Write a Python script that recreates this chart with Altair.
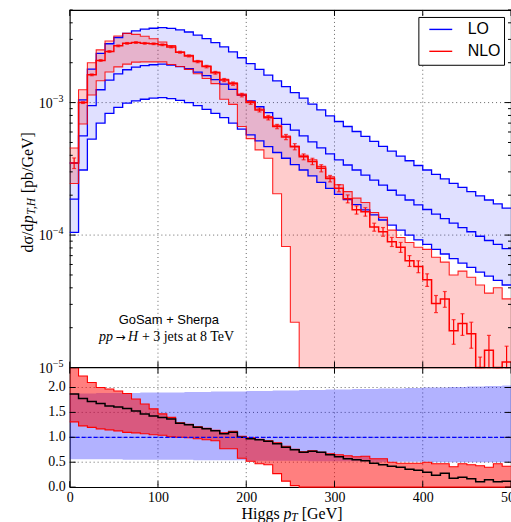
import altair as alt
import pandas as pd

# ---------------- data ----------------
EDGES = list(range(0, 501, 10))          # 50 bins of 10 GeV

lo_central = [1.87e-4, 5.6e-4, 9.5e-4, 1.25e-3, 1.48e-3, 1.65e-3, 1.77e-3, 1.85e-3, 1.9e-3, 1.93e-3,
              1.95e-3, 1.92e-3, 1.87e-3, 1.8e-3, 1.7e-3, 1.6e-3, 1.49e-3, 1.38e-3, 1.26e-3, 1.14e-3,
              1.03e-3, 9.3e-4, 8.4e-4, 7.6e-4, 6.85e-4, 6.2e-4, 5.6e-4, 5.05e-4, 4.55e-4, 4.1e-4,
              3.7e-4, 3.38e-4, 3.1e-4, 2.84e-4, 2.6e-4, 2.38e-4, 2.18e-4, 2.0e-4, 1.84e-4, 1.69e-4,
              1.56e-4, 1.44e-4, 1.33e-4, 1.23e-4, 1.14e-4, 1.06e-4, 9.8e-5, 9.1e-5, 8.5e-5, 7.9e-5]
lo_upper = [3.5e-4, 1.05e-3, 1.79e-3, 2.35e-3, 2.78e-3, 3.1e-3, 3.33e-3, 3.48e-3, 3.58e-3, 3.64e-3,
            3.68e-3, 3.63e-3, 3.54e-3, 3.41e-3, 3.23e-3, 3.04e-3, 2.84e-3, 2.63e-3, 2.41e-3, 2.18e-3,
            1.97e-3, 1.78e-3, 1.61e-3, 1.46e-3, 1.32e-3, 1.19e-3, 1.08e-3, 9.75e-4, 8.8e-4, 7.95e-4,
            7.2e-4, 6.6e-4, 6.05e-4, 5.55e-4, 5.1e-4, 4.68e-4, 4.3e-4, 3.95e-4, 3.64e-4, 3.35e-4,
            3.1e-4, 2.87e-4, 2.66e-4, 2.46e-4, 2.29e-4, 2.13e-4, 1.98e-4, 1.84e-4, 1.72e-4, 1.6e-4]
lo_lower = [1.05e-4, 3.1e-4, 5.3e-4, 7.0e-4, 8.3e-4, 9.2e-4, 9.9e-4, 1.03e-3, 1.06e-3, 1.08e-3,
            1.09e-3, 1.07e-3, 1.04e-3, 1.0e-3, 9.5e-4, 8.9e-4, 8.3e-4, 7.7e-4, 7.0e-4, 6.3e-4,
            5.7e-4, 5.15e-4, 4.65e-4, 4.2e-4, 3.8e-4, 3.4e-4, 3.1e-4, 2.8e-4, 2.5e-4, 2.25e-4,
            2.03e-4, 1.85e-4, 1.7e-4, 1.55e-4, 1.42e-4, 1.3e-4, 1.19e-4, 1.09e-4, 1.0e-4, 9.2e-5,
            8.5e-5, 7.8e-5, 7.2e-5, 6.65e-5, 6.15e-5, 5.7e-5, 5.25e-5, 4.9e-5, 4.55e-5, 4.2e-5]
nlo_central = [3.5e-4, 1.0e-3, 1.62e-3, 2.08e-3, 2.43e-3, 2.68e-3, 2.8e-3, 2.84e-3, 2.8e-3, 2.78e-3,
               2.73e-3, 2.63e-3, 2.4e-3, 2.25e-3, 2.04e-3, 1.87e-3, 1.68e-3, 1.48e-3, 1.39e-3, 1.14e-3,
               1.0e-3, 8.8e-4, 7.7e-4, 6.6e-4, 5.5e-4, 4.65e-4, 3.9e-4, 3.6e-4, 3.2e-4, 2.67e-4,
               2.26e-4, 1.88e-4, 1.55e-4, 1.5e-4, 1.15e-4, 1.06e-4, 8.9e-5, 8.1e-5, 6.4e-5, 5.8e-5,
               4.6e-5, 3.05e-5, 3.3e-5, 1.9e-5, 2.15e-5, 1.8e-5, 8.5e-6, 1.35e-5, 6.0e-6, 1.1e-5]
nlo_error = [3.2e-5, 1.5e-5, 2.5e-5, 3e-5, 3.5e-5, 4e-5, 4e-5, 4e-5, 4e-5, 4e-5,
             4e-5, 4e-5, 4e-5, 4e-5, 4e-5, 4e-5, 4e-5, 4e-5, 4e-5, 3.5e-5,
             3e-5, 3e-5, 3e-5, 2.5e-5, 2.5e-5, 2.5e-5, 2e-5, 2e-5, 2e-5, 1.5e-5,
             1.4e-5, 1.3e-5, 1.1e-5, 1.1e-5, 8e-6, 8e-6, 7e-6, 7e-6, 6e-6, 6e-6,
             5e-6, 4.5e-6, 4.5e-6, 4e-6, 4e-6, 4e-6, 3.5e-6, 4e-6, 3e-6, 3.5e-6]
nlo_upper = [4.54e-4, 1.25e-3, 2.0e-3, 2.5e-3, 2.92e-3, 3.18e-3, 3.33e-3, 3.27e-3, 3.17e-3, 3.03e-3,
             2.87e-3, 2.69e-3, 2.41e-3, 2.27e-3, 2.06e-3, 1.89e-3, 1.7e-3, 1.5e-3, 1.41e-3, 1.16e-3,
             1.02e-3, 8.95e-4, 7.85e-4, 6.75e-4, 5.6e-4, 4.7e-4, 4.0e-4, 3.7e-4, 3.3e-4, 2.75e-4,
             2.4e-4, 2.13e-4, 1.9e-4, 1.76e-4, 1.48e-4, 1.36e-4, 1.09e-4, 9.6e-5, 8.8e-5, 8.1e-5,
             7.8e-5, 6.8e-5, 6.25e-5, 5.0e-5, 5.35e-5, 4.8e-5, 4.2e-5, 3.65e-5, 4.0e-5, 3.3e-5]
nlo_lower = [2.45e-4, 6.9e-4, 1.14e-3, 1.46e-3, 1.7e-3, 1.86e-3, 1.95e-3, 2.02e-3, 2.03e-3, 2.03e-3,
             2.03e-3, 1.94e-3, 1.87e-3, 1.78e-3, 1.65e-3, 1.52e-3, 1.39e-3, 1.06e-3, 9.7e-4, 6.6e-4,
             5.35e-4, 4.4e-4, 3.8e-4, 2.05e-4, 8.2e-5, 2.2e-5, 0, 0, 0, 0,
             0, 0, 0, 0, 0, 0, 0, 0, 0, 0,
             0, 0, 0, 0, 0, 0, 0, 0, 0, 0]

# ratio panel (relative to LO central)
ratio_lo_up = [1.88, 1.88, 1.88, 1.89, 1.89, 1.89, 1.89, 1.89, 1.90, 1.90,
               1.90, 1.90, 1.90, 1.91, 1.91, 1.91, 1.92, 1.92, 1.92, 1.92,
               1.93, 1.93, 1.93, 1.94, 1.94, 1.94, 1.95, 1.95, 1.95, 1.96,
               1.96, 1.96, 1.97, 1.97, 1.97, 1.98, 1.98, 1.98, 1.99, 1.99,
               2.00, 2.00, 2.00, 2.01, 2.01, 2.02, 2.02, 2.03, 2.03, 2.04]
ratio_lo_dn = [0.56, 0.56, 0.56, 0.56, 0.56, 0.56, 0.55, 0.55, 0.55, 0.55,
               0.55, 0.55, 0.55, 0.55, 0.54, 0.54, 0.54, 0.54, 0.54, 0.54,
               0.53, 0.53, 0.53, 0.53, 0.53, 0.53, 0.53, 0.52, 0.52, 0.52,
               0.52, 0.52, 0.52, 0.52, 0.51, 0.51, 0.51, 0.51, 0.51, 0.51,
               0.51, 0.50, 0.50, 0.50, 0.50, 0.50, 0.50, 0.50, 0.50, 0.50]
ratio_nlo = [1.87, 1.78, 1.72, 1.68, 1.63, 1.61, 1.58, 1.53, 1.47, 1.43,
             1.40, 1.37, 1.28, 1.25, 1.20, 1.17, 1.13, 1.07, 1.10, 1.00,
             0.97, 0.95, 0.92, 0.87, 0.80, 0.75, 0.70, 0.72, 0.70, 0.65,
             0.61, 0.57, 0.55, 0.53, 0.48, 0.45, 0.42, 0.40, 0.36, 0.34,
             0.30, 0.24, 0.28, 0.18, 0.20, 0.17, 0.11, 0.15, 0.11, 0.12]
ratio_nlo_up = [2.43, 2.23, 2.10, 2.00, 1.97, 1.93, 1.88, 1.77, 1.67, 1.57,
                1.47, 1.40, 1.29, 1.26, 1.21, 1.18, 1.14, 1.09, 1.12, 1.02,
                0.99, 0.96, 0.93, 0.89, 0.82, 0.76, 0.71, 0.73, 0.70, 0.67,
                0.65, 0.63, 0.61, 0.62, 0.57, 0.57, 0.50, 0.48, 0.48, 0.48,
                0.50, 0.47, 0.47, 0.41, 0.47, 0.45, 0.43, 0.40, 0.47, 0.42]
ratio_nlo_dn = [1.31, 1.23, 1.20, 1.17, 1.15, 1.13, 1.10, 1.09, 1.07, 1.05,
                1.04, 1.01, 1.00, 0.99, 0.97, 0.95, 0.93, 0.77, 0.77, 0.58,
                0.52, 0.47, 0.45, 0.27, 0.12, 0.03, 0, 0, 0, 0,
                0, 0, 0, 0, 0, 0, 0, 0, 0, 0,
                0, 0, 0, 0, 0, 0, 0, 0, 0, 0]

x_ticks = [0, 100, 200, 300, 400, 500]
x_grid = [100, 200, 300, 400]
y_major = [1e-5, 1e-4, 1e-3]
y_major_exp = ["−5", "−4", "−3"]
y_grid = [1e-4, 1e-3]
y_minor = [2e-5, 3e-5, 4e-5, 5e-5, 6e-5, 7e-5, 8e-5, 9e-5,
           2e-4, 3e-4, 4e-4, 5e-4, 6e-4, 7e-4, 8e-4, 9e-4,
           2e-3, 3e-3, 4e-3, 5e-3]
r_ticks = [0.0, 0.5, 1.0, 1.5, 2.0]
r_labels = ["0.0", "0.5", "1.0", "1.5", "2.0"]
r_grid = [0.5, 1.0, 1.5, 2.0]
legend_labels = ["LO", "NLO"]
legend_colors = ["blue", "red"]

# ---------------- tables ----------------
FLOOR = 1e-7  # stand-in for 0 on the log axis (clamped to the panel floor)


def step_table(cols, floor=None):
    rows = []
    for i, e in enumerate(EDGES):
        j = min(i, len(EDGES) - 2)
        row = {"x": e}
        for k, v in cols.items():
            val = v[j]
            if floor is not None:
                val = max(val, floor)
            row[k] = val
        rows.append(row)
    return pd.DataFrame(rows)


top_df = step_table({"lo_c": lo_central, "lo_u": lo_upper, "lo_d": lo_lower,
                     "nlo_c": nlo_central, "nlo_u": nlo_upper, "nlo_d": nlo_lower}, floor=FLOOR)
bot_df = step_table({"r_lo_u": ratio_lo_up, "r_lo_d": ratio_lo_dn, "r_nlo": ratio_nlo,
                     "r_nlo_u": ratio_nlo_up, "r_nlo_d": ratio_nlo_dn})
err_df = pd.DataFrame({
    "xc": [e + 5 for e in EDGES[:-1]],
    "lo": [max(c - d, FLOOR) for c, d in zip(nlo_central, nlo_error)],
    "hi": [c + d for c, d in zip(nlo_central, nlo_error)],
})

# ---------------- geometry ----------------
W = 443          # plot width (x = 500 falls just past the window edge, as in the reference)
H1 = 359         # main panel height
H2 = 120         # ratio panel height
H = H1 + H2
XS = alt.Scale(domain=[0, 500], nice=False, zero=False)
YS = alt.Scale(type="log", domain=[1e-5, 5e-3], range=[H1, 0], nice=False, clamp=True)
RS = alt.Scale(domain=[0, 2.4], range=[H, H1], nice=False, zero=False, clamp=True)
SERIF = "Liberation Serif"
SANS = "Liberation Sans"

AX_X = alt.Axis(values=x_ticks, grid=False, title=None, labelPadding=3, labelFlush=False,
                labelOverlap=False)


def X(f):
    return alt.X(f, type="quantitative", scale=XS, axis=AX_X)


def YT(f):
    return alt.Y(f, type="quantitative", scale=YS, axis=None)


def YR(f):
    return alt.Y(f, type="quantitative", scale=RS, axis=None)


def text_layer(txt, x, y, **kw):
    return alt.Chart(pd.DataFrame({"t": [txt]})).mark_text(**kw).encode(
        x=alt.value(x), y=alt.value(y), text="t:N")


GRID = dict(color="#555555", strokeDash=[1, 3], strokeWidth=0.9)

# ---------------- grid ----------------
grid_x = alt.Chart(pd.DataFrame({"v": x_grid})).mark_rule(**GRID).encode(
    x=X("v"), y=alt.value(0), y2=alt.value(H))
grid_top = alt.Chart(pd.DataFrame({"v": y_grid})).mark_rule(**GRID).encode(
    y=YT("v"), x=alt.value(0), x2=alt.value(W))
grid_bot = alt.Chart(pd.DataFrame({"v": r_grid})).mark_rule(**GRID).encode(
    y=YR("v"), x=alt.value(0), x2=alt.value(W))

# ---------------- main panel ----------------
tb = alt.Chart(top_df)
lo_band = tb.mark_area(interpolate="step-after", color="blue", opacity=0.12).encode(
    x=X("x"), y=YT("lo_d"), y2="lo_u:Q")
nlo_band = tb.mark_area(interpolate="step-after", color="red", opacity=0.2).encode(
    x=X("x"), y=YT("nlo_d"), y2="nlo_u:Q")
lo_lines = [tb.mark_line(interpolate="step-after", color="blue", strokeWidth=1.3).encode(
    x=X("x"), y=YT(f)) for f in ["lo_u", "lo_c", "lo_d"]]
nlo_edges = [tb.mark_line(interpolate="step-after", color="red", strokeWidth=1.1, opacity=0.85).encode(
    x=X("x"), y=YT(f)) for f in ["nlo_u", "nlo_d"]]
nlo_line = tb.mark_line(interpolate="step-after", color="red", strokeWidth=1.5).encode(
    x=X("x"), y=YT("nlo_c"))
eb = alt.Chart(err_df)
err_rule = eb.mark_rule(color="red", strokeWidth=1.2).encode(x=X("xc"), y=YT("lo"), y2="hi:Q")
err_cap_lo = eb.mark_tick(color="red", orient="horizontal", size=4, thickness=1.2).encode(
    x=X("xc"), y=YT("lo"))
err_cap_hi = eb.mark_tick(color="red", orient="horizontal", size=4, thickness=1.2).encode(
    x=X("xc"), y=YT("hi"))

# ---------------- ratio panel ----------------
bb = alt.Chart(bot_df)
r_lo_band = bb.mark_area(interpolate="step-after", color="blue", opacity=0.3).encode(
    x=X("x"), y=YR("r_lo_d"), y2="r_lo_u:Q")
r_nlo_band = bb.mark_area(interpolate="step-after", color="red", opacity=0.5).encode(
    x=X("x"), y=YR("r_nlo_d"), y2="r_nlo_u:Q")
r_edges = [bb.mark_line(interpolate="step-after", color="red", strokeWidth=1.1).encode(
    x=X("x"), y=YR(f)) for f in ["r_nlo_u", "r_nlo_d"]]
r_line = bb.mark_line(interpolate="step-after", color="black", strokeWidth=1.5).encode(
    x=X("x"), y=YR("r_nlo"))
unity = alt.Chart(pd.DataFrame({"one": [1.0]})).mark_rule(color="blue", strokeDash=[4, 2], strokeWidth=1.2).encode(
    y=YR("one"), x=alt.value(0), x2=alt.value(W))

# ---------------- frame separator, ticks, tick labels ----------------
sep = alt.Chart(pd.DataFrame({"v": [1e-5]})).mark_rule(color="black", strokeWidth=1.1).encode(
    y=YT("v"), x=alt.value(0), x2=alt.value(W))
xt = alt.Chart(pd.DataFrame({"v": x_ticks}))
ymaj = alt.Chart(pd.DataFrame({"v": y_major, "base": ["10"] * 3, "exp": y_major_exp}))
ymin = alt.Chart(pd.DataFrame({"v": y_minor}))
rt = alt.Chart(pd.DataFrame({"v": r_ticks, "lab": r_labels}))
ticks = [
    xt.mark_rule(color="black").encode(x=X("v"), y=alt.value(H1), y2=alt.value(H1 - 6)),
    xt.mark_rule(color="black").encode(x=X("v"), y=alt.value(0), y2=alt.value(6)),
    xt.mark_rule(color="black").encode(x=X("v"), y=alt.value(H1), y2=alt.value(H1 + 6)),
    xt.mark_rule(color="black").encode(x=X("v"), y=alt.value(H), y2=alt.value(H - 6)),
    ymaj.mark_rule(color="black").encode(y=YT("v"), x=alt.value(0), x2=alt.value(6)),
    ymaj.mark_rule(color="black").encode(y=YT("v"), x=alt.value(W - 6), x2=alt.value(W)),
    ymin.mark_rule(color="black").encode(y=YT("v"), x=alt.value(0), x2=alt.value(3)),
    ymin.mark_rule(color="black").encode(y=YT("v"), x=alt.value(W - 3), x2=alt.value(W)),
    rt.mark_rule(color="black").encode(y=YR("v"), x=alt.value(0), x2=alt.value(6)),
    rt.mark_rule(color="black").encode(y=YR("v"), x=alt.value(W - 6), x2=alt.value(W)),
]
tick_labels = [
    ymaj.mark_text(align="right", baseline="middle", font=SERIF, fontSize=14, dy=1).encode(
        y=YT("v"), x=alt.value(-17), text="base:N"),
    ymaj.mark_text(align="left", baseline="middle", font=SERIF, fontSize=10, dy=-4).encode(
        y=YT("v"), x=alt.value(-17), text="exp:N"),
    rt.mark_text(align="right", baseline="middle", font=SERIF, fontSize=14).encode(
        y=YR("v"), x=alt.value(-4), text="lab:N"),
]

# ---------------- legend ----------------
leg_box = alt.Chart(pd.DataFrame({"k": [0]})).mark_rect(fill="white", stroke="black", strokeWidth=1).encode(
    x=alt.value(350.5), x2=alt.value(436.5), y=alt.value(7.5), y2=alt.value(55.5))
leg_items = []
for lab, col, yy in zip(legend_labels, legend_colors, [19.5, 41.5]):
    leg_items.append(alt.Chart(pd.DataFrame({"k": [0]})).mark_rule(color=col, strokeWidth=1.4).encode(
        x=alt.value(361), x2=alt.value(384), y=alt.value(yy)))
    leg_items.append(text_layer(lab, 399.5, yy, align="left", baseline="middle", font=SANS, fontSize=16,
                                color="black"))

# ---------------- annotations and titles ----------------
ann = [
    text_layer("GoSam + Sherpa", 99.5, 311, align="center", baseline="middle", font=SANS, fontSize=13),
    text_layer("pp", 29.5, 328, align="left", baseline="middle", font=SERIF, fontSize=14, fontStyle="italic"),
    text_layer("→", 51, 328, align="center", baseline="middle", font="DejaVu Sans", fontSize=12),
    text_layer("H", 58.5, 328, align="left", baseline="middle", font=SERIF, fontSize=14, fontStyle="italic"),
    text_layer("+ 3 jets at 8 TeV", 72.5, 328, align="left", baseline="middle", font=SERIF, fontSize=14),
    # y-axis title, composed (reads bottom to top)
    text_layer("dσ/d", -42, 243.5, align="left", baseline="middle", angle=270, font=SERIF, fontSize=16),
    text_layer("p", -42, 214, align="left", baseline="middle", angle=270, font=SERIF, fontSize=16,
               fontStyle="italic"),
    text_layer("T,H", -38, 205.5, align="left", baseline="middle", angle=270, font=SERIF, fontSize=11.5,
               fontStyle="italic"),
    text_layer("[pb/GeV]", -42, 184, align="left", baseline="middle", angle=270, font=SERIF, fontSize=16),
    # x-axis title
    text_layer("Higgs ", 172.5, H + 27, align="left", baseline="middle", font=SERIF, fontSize=16),
    text_layer("p", 214.5, H + 27, align="left", baseline="middle", font=SERIF, fontSize=16, fontStyle="italic"),
    text_layer("T", 222.5, H + 31, align="left", baseline="middle", font=SERIF, fontSize=11.5, fontStyle="italic"),
    text_layer("[GeV]", 233, H + 27, align="left", baseline="middle", font=SERIF, fontSize=16),
]

chart = alt.layer(
    grid_x, grid_top, grid_bot,
    lo_band, nlo_band, *lo_lines, *nlo_edges, nlo_line, err_rule, err_cap_lo, err_cap_hi,
    r_lo_band, r_nlo_band, *r_edges, r_line, unity,
    sep, *ticks, *tick_labels, leg_box, *leg_items, *ann,
).resolve_scale(y="independent").properties(
    width=W, height=H,
    autosize=alt.AutoSizeParams(type="none"),
    padding={"left": 70, "top": 9, "right": 0, "bottom": 34},
).configure_view(stroke="black", strokeWidth=1.1).configure_axis(
    labelFont=SERIF, labelFontSize=14, labelColor="black", domain=False, ticks=False, grid=False
)

chart.save("out.html", embed_options={"renderer": "svg", "actions": False})
